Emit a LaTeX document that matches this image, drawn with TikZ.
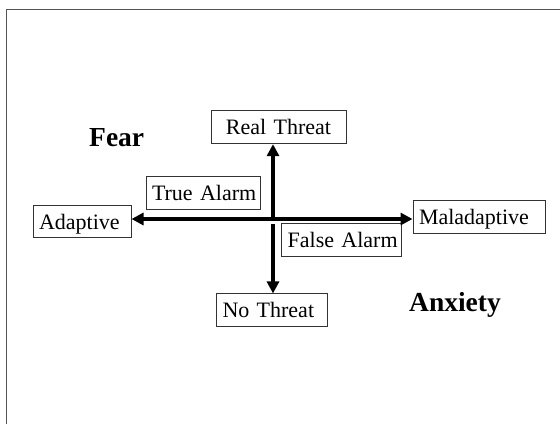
\documentclass[tikz,border=0pt]{standalone}
\usepackage{fontspec}
\setmainfont{Liberation Serif}[WordSpace=0.5]
\usetikzlibrary{arrows.meta,positioning,calc}
\definecolor{boxgray}{HTML}{333333}
\definecolor{framegray}{HTML}{555555}

\begin{document}
\begin{tikzpicture}[
  x=1pt, y=-1pt,
  >={Triangle[length=12pt,width=12pt]},
  statebox/.style={
    draw=boxgray,
    line width=1pt,
    minimum height=32.7pt,
    text height=15pt,
    text depth=0pt,
    inner xsep=6pt,
    inner ysep=0pt,
    align=left,
    font=\fontsize{22}{26}\selectfont
  },
  zonelabel/.style={
    font=\fontsize{27.5}{32}\selectfont\bfseries,
    inner sep=0pt,
    anchor=base west
  },
  axisarrow/.style={
    line width=3.2pt,
    draw=black
  }
]

  % Page and frame
  \useasboundingbox (0,0) rectangle (560,424);
  \draw[framegray, line width=1pt] (6.5,424) -- (6.5,9) -- (560,9);

  % --- Boxes ---
  \node[statebox, text width=123pt, align=center] (real) at (278.5,127.3) {Real~Threat};
  \node[statebox, text width=102pt] (truealarm) at (203,193.2) {True~Alarm};
  \node[statebox, text width=86pt] (adaptive) at (82,221.5) {Adaptive};
  \node[statebox, text width=120pt] (maladaptive) at (479,217) {Maladaptive};
  \node[statebox, text width=108pt] (falsealarm) at (341.7,240.2) {False~Alarm};
  \node[statebox, text width=99pt] (nothreat) at (272,310.3) {No~Threat};

  % --- Zone labels ---
  \node[zonelabel] (fear) at (89,146.7) {Fear};
  \node[zonelabel] (anxiety) at (409,311.7) {Anxiety};

  % Crossing point of the axes
  \coordinate (hub) at (273,219);
  \coordinate (hubdown) at (273,224.3);

  % --- Axes ---
  \draw[axisarrow, <->] (adaptive.east |- hub) -- (maladaptive.west |- hub);
  \draw[axisarrow, ->] (hub) -- (hub |- real.south);
  \draw[axisarrow, ->] (hubdown) -- (hubdown |- nothreat.north);

\end{tikzpicture}
\end{document}
